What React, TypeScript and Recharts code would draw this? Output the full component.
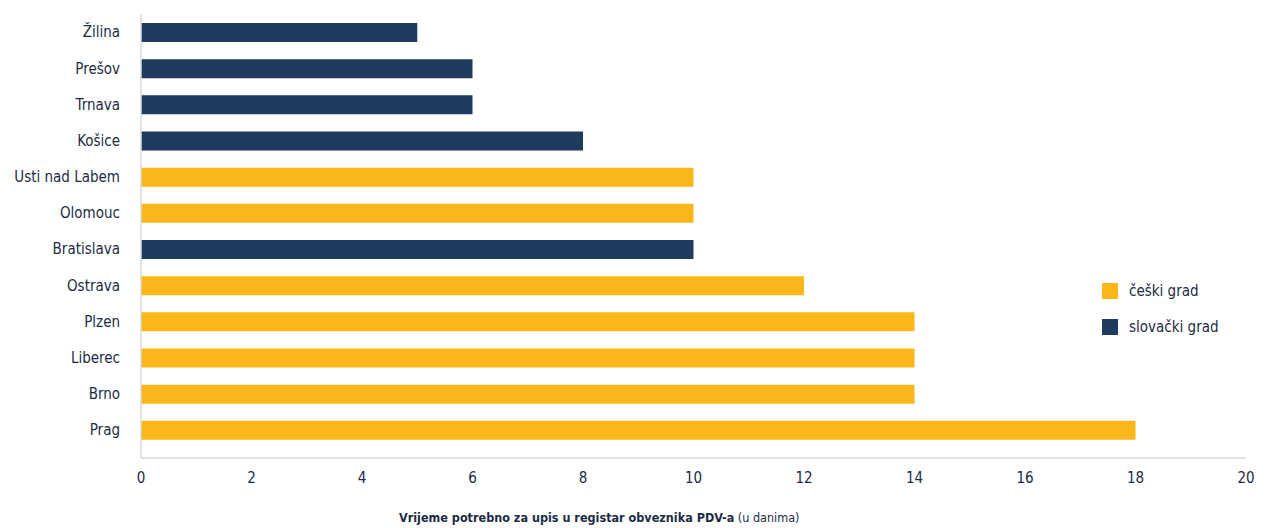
import React from 'react';
import { BarChart, Bar, XAxis, YAxis } from 'recharts';

const cities = ['Žilina', 'Prešov', 'Trnava', 'Košice', 'Usti nad Labem', 'Olomouc', 'Bratislava', 'Ostrava', 'Plzen', 'Liberec', 'Brno', 'Prag'];
const czechDays = [null, null, null, null, 10, 10, null, 12, 14, 14, 14, 18];
const slovakDays = [5, 6, 6, 8, null, null, 10, null, null, null, null, null];
const xTicks = [0, 2, 4, 6, 8, 10, 12, 14, 16, 18, 20];

const YELLOW = '#FBB619';
const NAVY = '#1F3B5F';
const TEXT = '#1C2B45';
const FONT = '"Liberation Sans Narrow", "DejaVu Sans Condensed", "Roboto", sans-serif';

const data = cities.map((city, i) => ({ city, cz: czechDays[i], sk: slovakDays[i] }));

const legendItems = [
    { label: 'češki grad', color: YELLOW },
    { label: 'slovački grad', color: NAVY },
];

function AxisTitle() {
    return (
        <text x={391} y={514} fill={TEXT} fontSize={12.5} fontFamily={FONT}>
            <tspan fontWeight="bold">Vrijeme potrebno za upis u registar obveznika PDV-a</tspan>
            <tspan> (u danima)</tspan>
        </text>
    );
}

export default function App() {
    return (
        <div style={{ position: 'relative', width: 1259, height: 520, fontFamily: FONT }}>
            <BarChart
                width={1259}
                height={520}
                data={data}
                layout="vertical"
                margin={{ top: 6, right: 21, bottom: 0, left: 0 }}
            >
                <XAxis
                    type="number"
                    domain={[0, 20]}
                    ticks={xTicks}
                    height={70}
                    axisLine={{ stroke: '#D9D9D9', strokeWidth: 1.5 }}
                    tickLine={false}
                    tickSize={0}
                    tickMargin={14}
                    tick={{ fill: TEXT, fontSize: 15, fontFamily: FONT }}
                    label={<AxisTitle />}
                />
                <YAxis
                    type="category"
                    dataKey="city"
                    width={133}
                    padding={{ top: 0, bottom: 10 }}
                    axisLine={{ stroke: '#D9D9D9', strokeWidth: 1.5 }}
                    tickLine={false}
                    tickSize={0}
                    tickMargin={21}
                    interval={0}
                    tick={{ fill: TEXT, fontSize: 15, fontFamily: FONT }}
                />
                <Bar dataKey="cz" stackId="a" fill={YELLOW} barSize={19} isAnimationActive={false} />
                <Bar dataKey="sk" stackId="a" fill={NAVY} barSize={19} isAnimationActive={false} />
            </BarChart>
            <div style={{ position: 'absolute', left: 1094, top: 265 }}>
                {legendItems.map((item) => (
                    <div key={item.label} style={{ display: 'flex', alignItems: 'center', height: 36 }}>
                        <div style={{ width: 16, height: 16, background: item.color, marginRight: 11 }} />
                        <span style={{ fontSize: 15, color: TEXT, fontFamily: FONT }}>{item.label}</span>
                    </div>
                ))}
            </div>
        </div>
    );
}
